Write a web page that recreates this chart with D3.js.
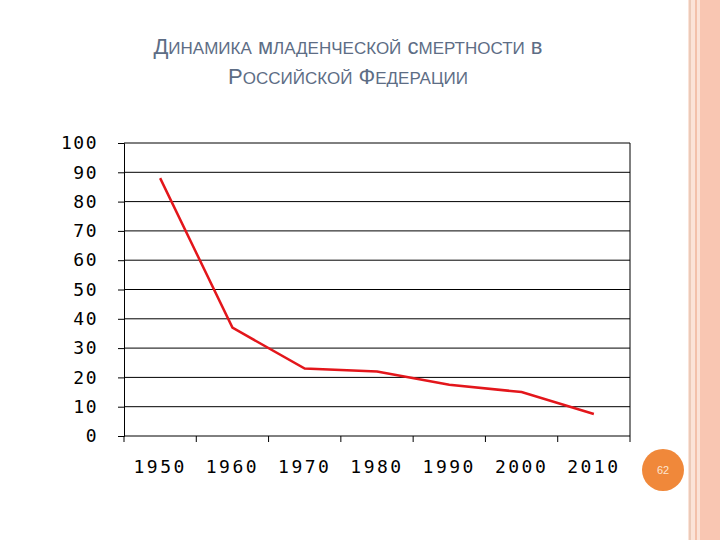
<!DOCTYPE html>
<html><head><meta charset="utf-8">
<script src="https://cdn.jsdelivr.net/npm/d3@7"></script>
<style>body{margin:0;background:#fff}</style>
</head><body>
<svg id="c" width="720" height="540"></svg>
<script>
var years = ["1950","1960","1970","1980","1990","2000","2010"];
var mortality = [88, 37, 23, 22, 17.5, 15, 7.5];
var yTicks = [0,10,20,30,40,50,60,70,80,90,100];

var svg = d3.select("#c");

// slide decoration on the right
svg.append("rect").attr("x",688).attr("y",0).attr("width",32).attr("height",540).attr("fill","#fbe3d8");
svg.append("rect").attr("x",700).attr("y",0).attr("width",20).attr("height",540).attr("fill","#f9c6b2");
svg.append("line").attr("x1",690).attr("x2",690).attr("y1",0).attr("y2",540).attr("stroke","#eccab8").attr("stroke-width",2);
svg.append("line").attr("x1",696).attr("x2",696).attr("y1",0).attr("y2",540).attr("stroke","#f3c0aa").attr("stroke-width",2);

// title, small caps look
var title = svg.append("text").attr("text-anchor","middle").attr("fill","#5d6d85")
	.style("font-family","Liberation Sans, Arial, sans-serif");
function caps(line, y) {
	var tl = title.append("tspan").attr("x",348).attr("y",y);
	line.forEach(function(w, i) {
		tl.append("tspan").attr("font-size",22).text((i ? " " : "") + w[0]);
		tl.append("tspan").attr("font-size",17).text(w.slice(1).toUpperCase());
	});
}
caps(["Динамика","младенческой","смертности","в"], 54);
caps(["Российской","Федерации"], 84);

var x = d3.scaleBand().domain(years).range([124,630]);
var y = d3.scaleLinear().domain([0,100]).range([436,143]);

var font = "DejaVu Sans Mono, monospace";
var g = svg.append("g");

g.selectAll("line.grid").data(yTicks).enter().append("line")
	.attr("x1",124).attr("x2",630).attr("y1",function(d){return y(d);}).attr("y2",function(d){return y(d);})
	.attr("stroke","#000").attr("stroke-width",1);
g.append("line").attr("x1",630).attr("x2",630).attr("y1",y(100)).attr("y2",y(0)+6).attr("stroke","#000");

var yAxis = g.append("g").attr("transform","translate(124,0)")
	.call(d3.axisLeft(y).tickValues(yTicks).tickSize(6).tickPadding(20));
yAxis.selectAll("text").attr("fill","#000").style("font-size","18px").style("letter-spacing","1.5px").style("font-family",font);

var xAxis = g.append("g").attr("transform","translate(0,436)")
	.call(d3.axisBottom(x).tickSize(0).tickPadding(24));
xAxis.select(".domain").remove();
xAxis.selectAll("text").attr("fill","#000").style("font-size","18px").style("letter-spacing","2.5px").style("font-family",font);
g.selectAll("line.xt").data(years).enter().append("line")
	.attr("x1",function(d){return x(d);}).attr("x2",function(d){return x(d);})
	.attr("y1",436).attr("y2",442).attr("stroke","#000");

var line = d3.line().x(function(d,i){return x(years[i]) + x.bandwidth()/2;}).y(function(d){return y(d);});
svg.append("path").datum(mortality).attr("d",line).attr("fill","none").attr("stroke","#e3161b").attr("stroke-width",2.5);

// page number badge
svg.append("circle").attr("cx",663).attr("cy",470).attr("r",21).attr("fill","#f0883a");
svg.append("text").attr("x",663).attr("y",474).attr("text-anchor","middle").attr("fill","#fde6d2")
	.style("font-family","Liberation Sans, Arial, sans-serif").style("font-size","11px").text("62");
</script>
</body></html>
